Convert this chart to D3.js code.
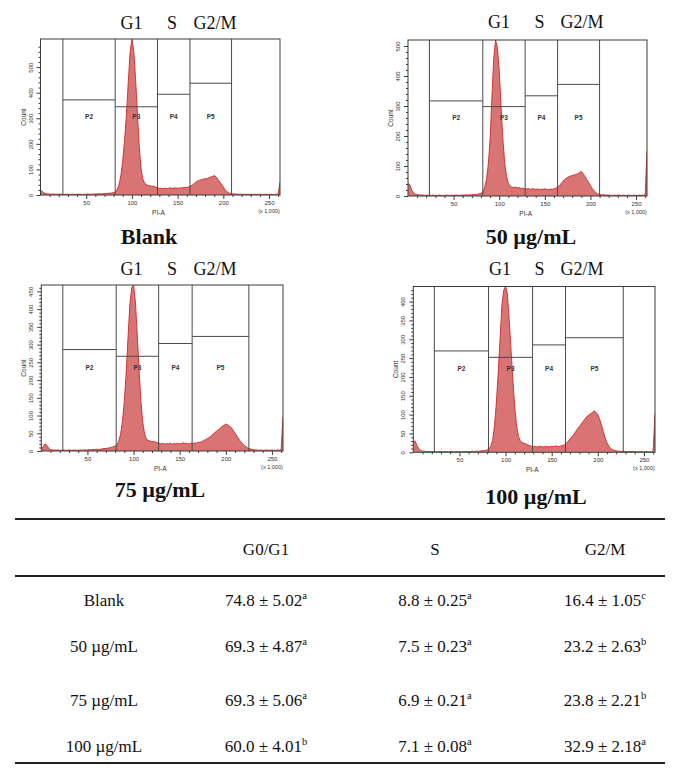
<!DOCTYPE html>
<html><head><meta charset="utf-8">
<script src="https://cdn.jsdelivr.net/npm/d3@7"></script>
<style>body{margin:0;background:#fff} svg{display:block}</style>
</head><body>
<svg id="c" width="680" height="770"></svg>
<script>
// ---------- DATA ----------
const binWidth = 2; // PI-A channel width (x 1,000); counts start at PI-A = 0
const blankCounts = [
 18,14,8,5,4,4,3,4,3,3, 4,3,3,2,3,3,2,3,3,2, 3,3,3,2,3,3,4,3,3,4, 4,4,5,4,5,6,6,7,7,8,
 9,12,22,42,78,135,215,315,440,560, 610,565,455,320,190,105,62,46,40,37, 36,34,35,31,28,26,27,24,27,25,
 26,28,25,27,28,26,28,27,29,30, 29,32,35,38,44,50,55,57,60,62, 64,63,67,70,72,76,71,62,52,42,
 31,21,13,8,6,5,4,4,3,3, 3,3,2,3,2,3,2,3,2,2, 3,2,2,3,2,2,3,2,2,3, 4,50];
const c50Counts = [
 42,38,20,10,6,4,4,3,3,3, 2,3,2,2,3,2,2,3,2,2, 2,3,2,2,3,2,3,3,2,3, 3,3,4,3,4,4,5,5,6,7,
 9,14,28,55,105,190,330,460,520,495, 420,300,190,110,65,42,33,29,28,30, 27,28,25,26,24,23,25,22,24,23,
 22,24,21,23,22,24,22,21,23,22, 24,26,30,35,42,50,56,60,64,66, 68,70,72,74,78,82,74,65,55,45,
 35,25,17,11,7,5,4,4,3,3, 3,3,2,3,2,3,3,2,3,2, 2,3,2,2,3,2,2,3,2,3, 4,150];
const c75Counts = [
 6,12,20,16,8,4,3,3,2,3, 2,2,3,2,2,3,2,2,3,2, 2,3,2,3,3,3,4,3,4,4, 5,4,5,6,7,7,8,9,10,12,
 14,18,28,48,85,140,220,320,415,460, 468,420,330,225,140,80,48,33,30,28, 26,27,25,24,22,20,22,19,21,20,
 22,19,21,20,22,20,21,23,21,22, 20,22,21,23,22,25,24,27,29,32, 35,38,42,47,52,56,60,64,70,72,
 76,74,70,66,58,50,42,34,27,21, 16,12,8,6,5,4,3,3,2,3, 2,2,3,2,2,3,2,2,3,2, 4,96];
const c100Counts = [
 28,30,18,9,5,3,3,2,2,2, 2,2,2,1,2,2,1,2,2,1, 2,2,1,2,2,2,1,2,2,2, 2,2,3,2,3,3,3,4,4,5,
 6,9,16,32,70,130,210,300,390,430, 440,420,350,270,190,120,70,42,30,26, 24,22,20,18,16,15,16,14,15,16,
 14,15,16,14,15,16,15,17,16,15, 17,18,20,24,30,36,42,48,55,62, 68,75,82,88,95,98,102,105,110,106,
 100,88,72,55,38,25,16,10,7,5, 4,3,3,2,3,2,2,2,2,2, 2,2,1,2,2,1,2,2,1,2, 3,103];

const gateNames = ["P2","P3","P4","P5"];
const blankGateEdges = [24.5, 81.7, 128, 163.5, 209];
const blankGateHeights = [372, 345, 394, 437];
const c50GateEdges = [23.5, 82, 128.4, 164, 210];
const c50GateHeights = [317, 298, 334, 372];
const c75GateEdges = [23.3, 81.2, 127.2, 163.5, 225];
const c75GateHeights = [286, 267, 303, 323];
const c100GateEdges = [22.8, 81.5, 129.3, 165, 227.6];
const c100GateHeights = [269, 252, 285, 304];

const phaseLabels = ["G1","S","G2/M"];
const panelNames = ["Blank","50 µg/mL","75 µg/mL","100 µg/mL"];
const xTickValues = [50,100,150,200,250];

const tableColumns = ["G0/G1","S","G2/M"];
const tableRows = ["Blank","50 µg/mL","75 µg/mL","100 µg/mL"];
const g0g1Mean = [74.8, 69.3, 69.3, 60.0];
const g0g1SD   = [5.02, 4.87, 5.06, 4.01];
const g0g1Sig  = ["a","a","a","b"];
const sMean    = [8.8, 7.5, 6.9, 7.1];
const sSD      = [0.25, 0.23, 0.21, 0.08];
const sSig     = ["a","a","a","a"];
const g2mMean  = [16.4, 23.2, 23.8, 32.9];
const g2mSD    = [1.05, 2.63, 2.21, 2.18];
const g2mSig   = ["c","b","b","a"];

// ---------- LAYOUT ----------
const svg = d3.select("#c");
const serif = "'Liberation Serif','Times New Roman',serif";
const sans = "'Liberation Sans',Arial,sans-serif";

const panels = [
 {counts: blankCounts, edges: blankGateEdges, heights: blankGateHeights, yMax: 610, yMajor: 100, yMinor: 20, yLabelMax: 500,
  box: [40.5, 39, 280, 195], phasePx: [131.5, 172, 215], phaseY: 28.5, name: panelNames[0], nameX: 149, nameY: 244},
 {counts: c50Counts, edges: c50GateEdges, heights: c50GateHeights, yMax: 520, yMajor: 100, yMinor: 20, yLabelMax: 500,
  box: [408, 40, 647, 196], phasePx: [499, 539.5, 582], phaseY: 28, name: panelNames[1], nameX: 531, nameY: 244},
 {counts: c75Counts, edges: c75GateEdges, heights: c75GateHeights, yMax: 468, yMajor: 50, yMinor: 10, yLabelMax: 450,
  box: [41.3, 285, 283, 451], phasePx: [131.5, 172, 215], phaseY: 274.5, name: panelNames[2], nameX: 160, nameY: 497},
 {counts: c100Counts, edges: c100GateEdges, heights: c100GateHeights, yMax: 440, yMajor: 50, yMinor: 10, yLabelMax: 400,
  box: [413.3, 286.5, 655, 452.3], phasePx: [500, 539.5, 582], phaseY: 275, name: panelNames[3], nameX: 536, nameY: 504}
];

const axisColor = "#3a3a3a";

panels.forEach((p, pi) => {
  const [L, T, R, B] = p.box;
  const x = d3.scaleLinear().domain([0, 262]).range([L, R]);
  const y = d3.scaleLinear().domain([0, p.yMax]).range([B, T]);
  const g = svg.append("g");

  const clipId = "clip" + pi;
  g.append("clipPath").attr("id", clipId).append("rect")
    .attr("x", L).attr("y", T - 0.5).attr("width", R - L).attr("height", B - T + 0.5);

  // histogram
  const area = d3.area()
    .x((d, i) => x(i * binWidth))
    .y0(y(0))
    .y1(d => y(d))
    .curve(d3.curveLinear);
  const line = d3.line().x((d, i) => x(i * binWidth)).y(d => y(d));
  g.append("path").datum(p.counts).attr("d", area)
    .attr("clip-path", `url(#${clipId})`)
    .attr("fill", "#d56868").attr("fill-opacity", 0.92);
  g.append("path").datum(p.counts).attr("d", line)
    .attr("clip-path", `url(#${clipId})`)
    .attr("fill", "none").attr("stroke", "#c92a2a").attr("stroke-width", 0.9);

  // gates
  const gateG = g.append("g").attr("stroke", "#4a4a4a").attr("stroke-width", 1).attr("fill", "none");
  p.edges.forEach(e => {
    gateG.append("line").attr("x1", x(e)).attr("x2", x(e)).attr("y1", T).attr("y2", B);
  });
  p.heights.forEach((h, i) => {
    gateG.append("line").attr("x1", x(p.edges[i])).attr("x2", x(p.edges[i + 1]))
      .attr("y1", y(h)).attr("y2", y(h));
  });
  p.heights.forEach((h, i) => {
    g.append("text").attr("x", (x(p.edges[i]) + x(p.edges[i + 1])) / 2).attr("y", (T + B) / 2 + 2)
      .attr("text-anchor", "middle").attr("font-family", sans).attr("font-size", 6.5)
      .attr("font-weight", "bold").attr("fill", "#333").text(gateNames[i]);
  });

  // frame
  g.append("rect").attr("x", L).attr("y", T).attr("width", R - L).attr("height", B - T)
    .attr("fill", "none").attr("stroke", axisColor).attr("stroke-width", 1);

  // x axis ticks
  const xAxis = d3.axisBottom(x).tickValues(xTickValues).tickSize(4).tickFormat(d3.format("d"));
  const xa = g.append("g").attr("transform", `translate(0,${B})`).call(xAxis);
  xa.select(".domain").remove();
  xa.selectAll("line").attr("stroke", axisColor);
  xa.selectAll("text").attr("font-family", sans).attr("font-size", 6).attr("fill", "#333").attr("dy", "0.5em");
  const xMinor = d3.axisBottom(x).tickValues(d3.range(10, 262, 10).filter(v => v % 50 !== 0)).tickSize(2).tickFormat("");
  const xm = g.append("g").attr("transform", `translate(0,${B})`).call(xMinor);
  xm.select(".domain").remove();
  xm.selectAll("line").attr("stroke", axisColor);

  // y axis ticks
  const yAxis = d3.axisLeft(y).tickValues(d3.range(0, p.yLabelMax + 1, p.yMajor)).tickSize(4).tickFormat(d3.format("d"));
  const ya = g.append("g").attr("transform", `translate(${L},0)`).call(yAxis);
  ya.select(".domain").remove();
  ya.selectAll("line").attr("stroke", axisColor);
  ya.selectAll("text").attr("font-family", sans).attr("font-size", 6).attr("fill", "#333")
    .attr("text-anchor", "middle").attr("x", 0).attr("dy", 0)
    .attr("transform", "translate(-8,0) rotate(-90)");
  const yMinor = d3.axisLeft(y).tickValues(d3.range(0, p.yMax, p.yMinor).filter(v => v % p.yMajor !== 0)).tickSize(2).tickFormat("");
  const ym = g.append("g").attr("transform", `translate(${L},0)`).call(yMinor);
  ym.select(".domain").remove();
  ym.selectAll("line").attr("stroke", axisColor);

  // axis titles
  g.append("text").attr("x", x(129)).attr("y", B + 20).attr("text-anchor", "middle")
    .attr("font-family", sans).attr("font-size", 6.5).attr("fill", "#333").text("PI-A");
  g.append("text").attr("x", x(250)).attr("y", B + 17.5).attr("text-anchor", "middle")
    .attr("font-family", sans).attr("font-size", 5.5).attr("fill", "#333").text("(x 1,000)");
  g.append("text").attr("transform", `translate(${L - 15},${(T + B) / 2}) rotate(-90)`)
    .attr("text-anchor", "middle").attr("font-family", sans).attr("font-size", 6.5).attr("fill", "#333").text("Count");

  // phase labels
  phaseLabels.forEach((t, i) => {
    g.append("text").attr("x", p.phasePx[i]).attr("y", p.phaseY).attr("text-anchor", "middle")
      .attr("font-family", serif).attr("font-size", 18).attr("fill", "#111").text(t);
  });
  // panel name
  g.append("text").attr("x", p.nameX).attr("y", p.nameY).attr("text-anchor", "middle")
    .attr("font-family", serif).attr("font-size", 22).attr("font-weight", "bold").attr("fill", "#111").text(p.name);
});

// ---------- TABLE ----------
const tb = svg.append("g").attr("font-family", serif).attr("fill", "#111");
const ruleX1 = 15, ruleX2 = 665;
[519, 576, 763].forEach(yy => {
  tb.append("line").attr("x1", ruleX1).attr("x2", ruleX2).attr("y1", yy).attr("y2", yy)
    .attr("stroke", "#222").attr("stroke-width", 2);
});
const colX = [104, 266, 435, 605];
const headerY = 555;
tableColumns.forEach((c, i) => {
  tb.append("text").attr("x", colX[i + 1]).attr("y", headerY).attr("text-anchor", "middle")
    .attr("font-size", 17).text(c);
});
const rowY = [606, 652, 706, 752];
const cols = [[g0g1Mean, g0g1SD, g0g1Sig], [sMean, sSD, sSig], [g2mMean, g2mSD, g2mSig]];
tableRows.forEach((r, ri) => {
  tb.append("text").attr("x", colX[0]).attr("y", rowY[ri]).attr("text-anchor", "middle")
    .attr("font-size", 17).text(r);
  cols.forEach(([m, sd, sig], ci) => {
    const t = tb.append("text").attr("x", colX[ci + 1]).attr("y", rowY[ri]).attr("text-anchor", "middle")
      .attr("font-size", 17);
    t.append("tspan").text(`${m[ri].toFixed(1)} ± ${sd[ri].toFixed(2)}`);
    t.append("tspan").attr("font-size", 10.5).attr("dy", -7).text(sig[ri]);
  });
});
</script>
</body></html>
